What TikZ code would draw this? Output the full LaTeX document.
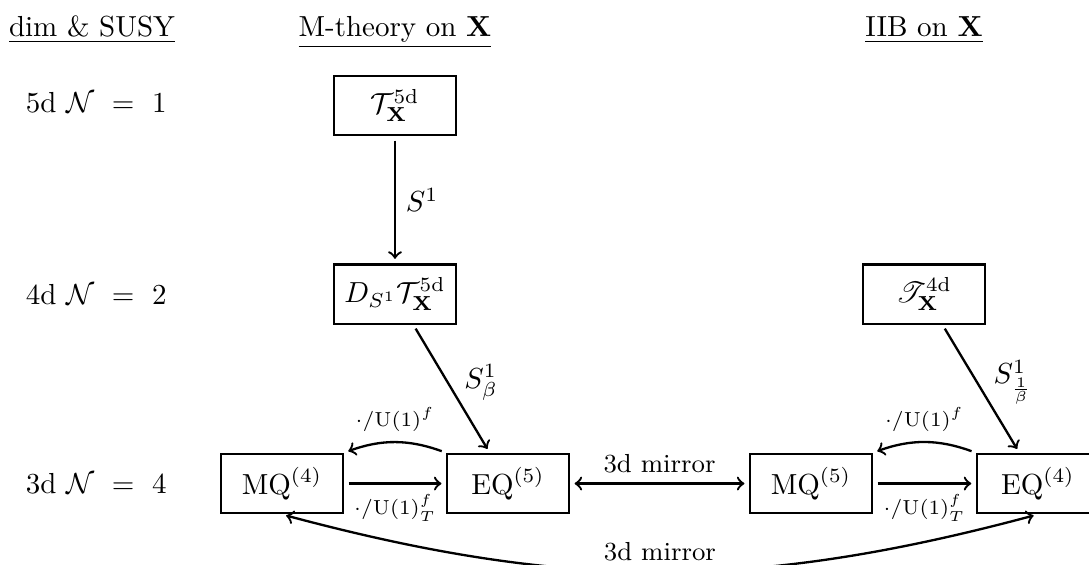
\documentclass[tikz,border=0pt]{standalone}
\usepackage{amsmath, amssymb}
\usepackage{mathrsfs}
\usepackage{tikz}

\begin{document}
\begin{tikzpicture}[thick,
  theory/.style={draw, minimum width=1.48cm, minimum height=0.72cm},
  gauge/.style={font=\scriptsize},
  link/.style={->, shorten >=1.5pt, shorten <=1.5pt}]
  \useasboundingbox (0,0) rectangle (13.2,-6.848);
  % column heads
  \node[anchor=base] (hdim) at (1.115,-0.445) {\underline{dim \& SUSY}};
  \node[anchor=base] (hM) at (4.788,-0.445) {\underline{M-theory on $\mathbf{X}$}};
  \node[anchor=base] (hIIB) at (11.2,-0.445) {\underline{IIB on $\mathbf{X}$}};
  % rows
  \node[anchor=base west] (r5) at (0.182,-1.358) {5d $\mathcal{N}\ =\ 1$};
  \node[anchor=base west] (r4) at (0.182,-3.685) {4d $\mathcal{N}\ =\ 2$};
  \node[anchor=base west] (r3) at (0.182,-5.976) {3d $\mathcal{N}\ =\ 4$};
  % theories
  \node[theory] (T5) at (4.788,-1.279) {$\mathcal{T}^{\mathrm{5d}}_{\mathbf{X}}$};
  \node[theory] (DT) at (4.788,-3.564) {$D_{S^1}\mathcal{T}^{\mathrm{5d}}_{\mathbf{X}}$};
  \node[theory] (T4) at (11.2,-3.564) {$\mathscr{T}^{\mathrm{4d}}_{\mathbf{X}}$};
  \node[theory] (MQ4) at (3.418,-5.861) {$\mathrm{MQ}^{(4)}$};
  \node[theory] (EQ5) at (6.158,-5.861) {$\mathrm{EQ}^{(5)}$};
  \node[theory] (MQ5) at (9.830,-5.861) {$\mathrm{MQ}^{(5)}$};
  \node[theory] (EQ4) at (12.58,-5.861) {$\mathrm{EQ}^{(4)}$};
  % reductions
  \draw[link] (T5) -- node[right] {$S^1$} (DT);
  \draw[link] (DT) -- node[pos=0.45, right=2pt] {$S^1_\beta$} (EQ5);
  \draw[link] (T4) -- node[pos=0.45, right=2pt] {$S^1_{\frac{1}{\beta}}$} (EQ4);
  % gaugings
  \draw[link] (MQ4) -- node[below, gauge] {$\cdot/\mathrm{U}(1)^f_T$} (EQ5);
  \draw[link] (EQ5.north west) to[bend right=20] node[above, gauge] {$\cdot/\mathrm{U}(1)^f$} (MQ4.north east);
  \draw[link] (MQ5) -- node[below, gauge] {$\cdot/\mathrm{U}(1)^f_T$} (EQ4);
  \draw[link] (EQ4.north west) to[bend right=20] node[above, gauge] {$\cdot/\mathrm{U}(1)^f$} (MQ5.north east);
  % mirrors
  \draw[link, <->] (EQ5) -- node[above, font=\small] {3d mirror} (MQ5);
  \draw[link, <->] (MQ4.south) to[bend right=15] node[above, font=\small] {3d mirror} (EQ4.south);
\end{tikzpicture}
\end{document}
